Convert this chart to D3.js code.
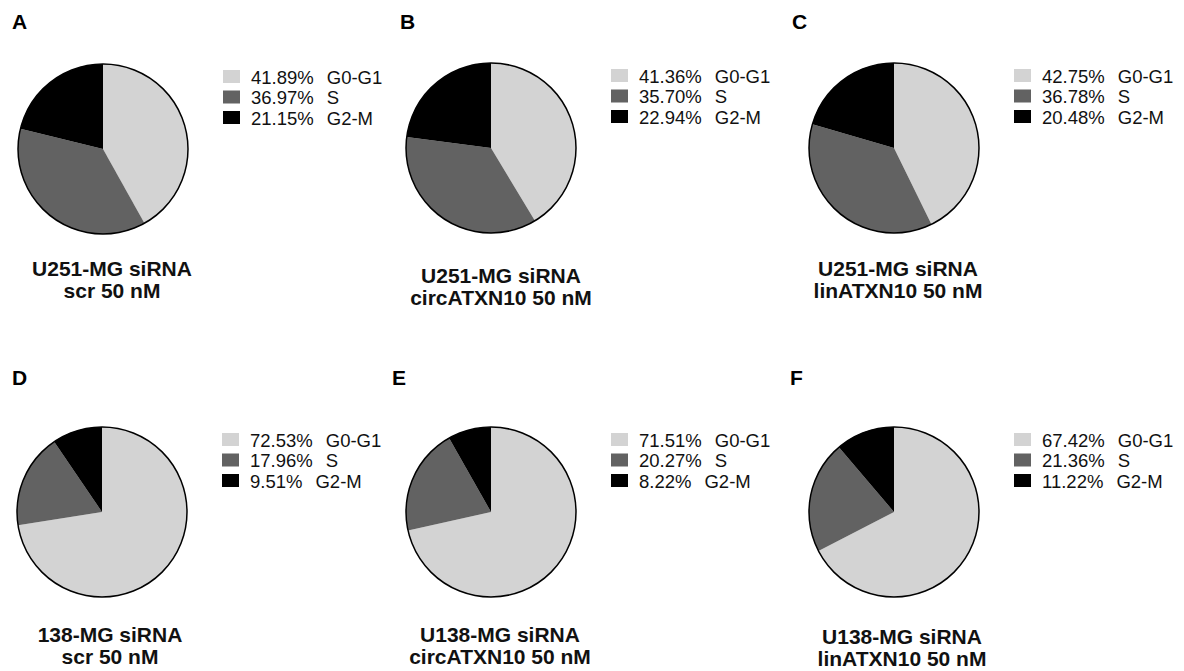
<!DOCTYPE html>
<html>
<head>
<meta charset="utf-8">
<script src="https://cdn.jsdelivr.net/npm/d3@7"></script>
<style>
  html, body { margin: 0; padding: 0; background: #fff; }
  svg { display: block; font-family: "Liberation Sans", Arial, Helvetica, sans-serif; }
</style>
</head>
<body>
<svg id="chart" width="1184" height="671"></svg>
<script>
// Cell-cycle distribution per condition (percent of cells)
const panelLetters = ["A", "B", "C", "D", "E", "F"];
const titleLine1 = ["U251-MG siRNA", "U251-MG siRNA", "U251-MG siRNA",
                    "138-MG siRNA", "U138-MG siRNA", "U138-MG siRNA"];
const titleLine2 = ["scr 50 nM", "circATXN10 50 nM", "linATXN10 50 nM",
                    "scr 50 nM", "circATXN10 50 nM", "linATXN10 50 nM"];
const phases = ["G0-G1", "S", "G2-M"];
const g0g1Values = [41.89, 41.36, 42.75, 72.53, 71.51, 67.42];
const sValues    = [36.97, 35.70, 36.78, 17.96, 20.27, 21.36];
const g2mValues  = [21.15, 22.94, 20.48, 9.51, 8.22, 11.22];

// Panel placement on the page
const layout = [
  { cx: 103, cy: 149, lx: 12,  ly: 29,  tx: 112, ty: 276 },
  { cx: 491, cy: 148, lx: 400, ly: 29,  tx: 501, ty: 283 },
  { cx: 894, cy: 148, lx: 792, ly: 29,  tx: 898, ty: 276 },
  { cx: 102, cy: 512, lx: 12,  ly: 385, tx: 110, ty: 642 },
  { cx: 491, cy: 512, lx: 392, ly: 385, tx: 500, ty: 642 },
  { cx: 894, cy: 512, lx: 790, ly: 385, tx: 902, ty: 644 }
];
const radius = 85;

const color = d3.scaleOrdinal()
  .domain(phases)
  .range(["#d3d3d3", "#626262", "#000000"]);

const fmt = d3.format(".2f");
const pie = d3.pie().sort(null).value(d => d.value);
const arc = d3.arc().innerRadius(0).outerRadius(radius);

const svg = d3.select("#chart");

panelLetters.forEach((letter, i) => {
  const L = layout[i];
  const rows = phases.map((p, k) => ({
    phase: p,
    value: [g0g1Values, sValues, g2mValues][k][i]
  }));

  // panel letter
  svg.append("text")
    .attr("x", L.lx).attr("y", L.ly)
    .attr("font-size", 21).attr("font-weight", "bold")
    .text(letter);

  // pie
  const g = svg.append("g").attr("transform", `translate(${L.cx},${L.cy})`);
  g.selectAll("path")
    .data(pie(rows))
    .join("path")
    .attr("d", arc)
    .attr("fill", d => color(d.data.phase));
  g.append("circle")
    .attr("r", radius)
    .attr("fill", "none")
    .attr("stroke", "#000")
    .attr("stroke-width", 1.5);

  // legend
  const leg = svg.append("g")
    .attr("transform", `translate(${L.cx + 120},${L.cy - 79})`);
  const item = leg.selectAll("g")
    .data(rows)
    .join("g")
    .attr("transform", (d, k) => `translate(0,${k * 20.5})`);
  item.append("rect")
    .attr("width", 17).attr("height", 13)
    .attr("fill", d => color(d.phase));
  const lt = item.append("text")
    .attr("x", 28).attr("y", 13.5)
    .attr("font-size", 18.5)
    .attr("fill", "#111");
  lt.append("tspan").text(d => `${fmt(d.value)}%`);
  lt.append("tspan").attr("dx", 13).text(d => d.phase);

  // caption
  const cap = svg.append("text")
    .attr("x", L.tx).attr("y", L.ty)
    .attr("text-anchor", "middle")
    .attr("font-size", 21).attr("font-weight", "bold")
    .attr("fill", "#111");
  cap.append("tspan").attr("x", L.tx).attr("dy", 0).text(titleLine1[i]);
  cap.append("tspan").attr("x", L.tx).attr("dy", 22).text(titleLine2[i]);
});
</script>
</body>
</html>
